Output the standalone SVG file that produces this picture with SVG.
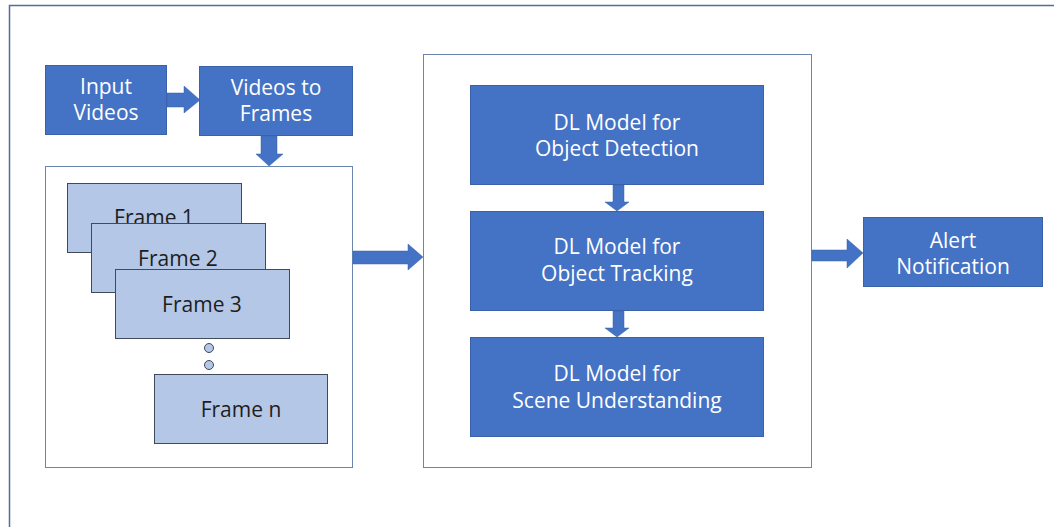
<svg xmlns="http://www.w3.org/2000/svg" width="1054" height="527" viewBox="0 0 1054 527">
  <style>
    .step { fill: #4472C4; stroke: #3A62A8; stroke-width: 1; }
    .step-label { fill: #FFFFFF; font-family: "Open Sans", "Liberation Sans", sans-serif; font-size: 21px; text-anchor: middle; }
    .frame { fill: #B4C7E7; stroke: #3F4A5A; stroke-width: 1; }
    .frame-label { fill: #1E1E1E; font-family: "Open Sans", "Liberation Sans", sans-serif; font-size: 21px; text-anchor: middle; }
    .panel { fill: #FFFFFF; stroke: #6A86B0; stroke-width: 1; }
    .arrow { fill: #4472C4; stroke: #3A62A8; stroke-width: 0.5; }
    .dot { fill: #B4C7E7; stroke: #3F4A5A; stroke-width: 1; }
  </style>

  <rect x="0" y="0" width="1054" height="527" fill="#FFFFFF"/>
  <!-- outer frame -->
  <rect x="9.5" y="5.5" width="1060" height="540" fill="none" stroke="#4F6E9C" stroke-width="1.5"/>

  <!-- containers -->
  <g id="frames-panel">
    <rect class="panel" x="45.5" y="166.5" width="307" height="301"/>
  </g>
  <g id="models-panel">
    <rect class="panel" x="423.5" y="54.5" width="388" height="413"/>
  </g>

  <!-- connectors -->
  <g id="connectors">
    <path class="arrow" d="M167,93 H184 V86 L200,100 L184,113 V107 H167 Z"/>
    <path class="arrow" d="M261,136 H277 V154 H283 L269,166 L256,154 H261 Z"/>
    <path class="arrow" d="M353,251 H408 V244 L423,257 L408,270 V264 H353 Z"/>
    <path class="arrow" d="M613,185 H624 V202 H629 L617,211 L605,202 H613 Z"/>
    <path class="arrow" d="M613,311 H624 V328 H629 L617,337 L605,328 H613 Z"/>
    <path class="arrow" d="M812,250 H847 V239 L863,253 L847,268 V261 H812 Z"/>
  </g>

  <g id="input-videos">
    <rect class="step" x="45.5" y="65.5" width="121" height="69"/>
    <text class="step-label" x="106" y="94">Input</text>
    <text class="step-label" x="106" y="120">Videos</text>
  </g>
  <g id="videos-to-frames">
    <rect class="step" x="199.5" y="66.5" width="153" height="69"/>
    <text class="step-label" x="276" y="95">Videos to</text>
    <text class="step-label" x="276" y="121">Frames</text>
  </g>

  <g id="frame-1">
    <rect class="frame" x="67.5" y="183.5" width="174" height="69"/>
    <text class="frame-label" x="154" y="225">Frame 1</text>
  </g>
  <g id="frame-2">
    <rect class="frame" x="91.5" y="223.5" width="174" height="69"/>
    <text class="frame-label" x="178" y="266">Frame 2</text>
  </g>
  <g id="frame-3">
    <rect class="frame" x="115.5" y="269.5" width="174" height="69"/>
    <text class="frame-label" x="202" y="312">Frame 3</text>
  </g>
  <g id="ellipsis">
    <circle class="dot" cx="209" cy="348" r="4.5"/>
    <circle class="dot" cx="209" cy="365" r="4.5"/>
  </g>
  <g id="frame-n">
    <rect class="frame" x="154.5" y="374.5" width="173" height="69"/>
    <text class="frame-label" x="241" y="417">Frame n</text>
  </g>

  <g id="object-detection">
    <rect class="step" x="470.5" y="85.5" width="293" height="99"/>
    <text class="step-label" x="617" y="130">DL Model for</text>
    <text class="step-label" x="617" y="156">Object Detection</text>
  </g>
  <g id="object-tracking">
    <rect class="step" x="470.5" y="211.5" width="293" height="99"/>
    <text class="step-label" x="617" y="254">DL Model for</text>
    <text class="step-label" x="617" y="281">Object Tracking</text>
  </g>
  <g id="scene-understanding">
    <rect class="step" x="470.5" y="337.5" width="293" height="99"/>
    <text class="step-label" x="617" y="381">DL Model for</text>
    <text class="step-label" x="617" y="408">Scene Understanding</text>
  </g>

  <g id="alert-notification">
    <rect class="step" x="863.5" y="217.5" width="179" height="69"/>
    <text class="step-label" x="953" y="248">Alert</text>
    <text class="step-label" x="953" y="274">Notification</text>
  </g>
</svg>
